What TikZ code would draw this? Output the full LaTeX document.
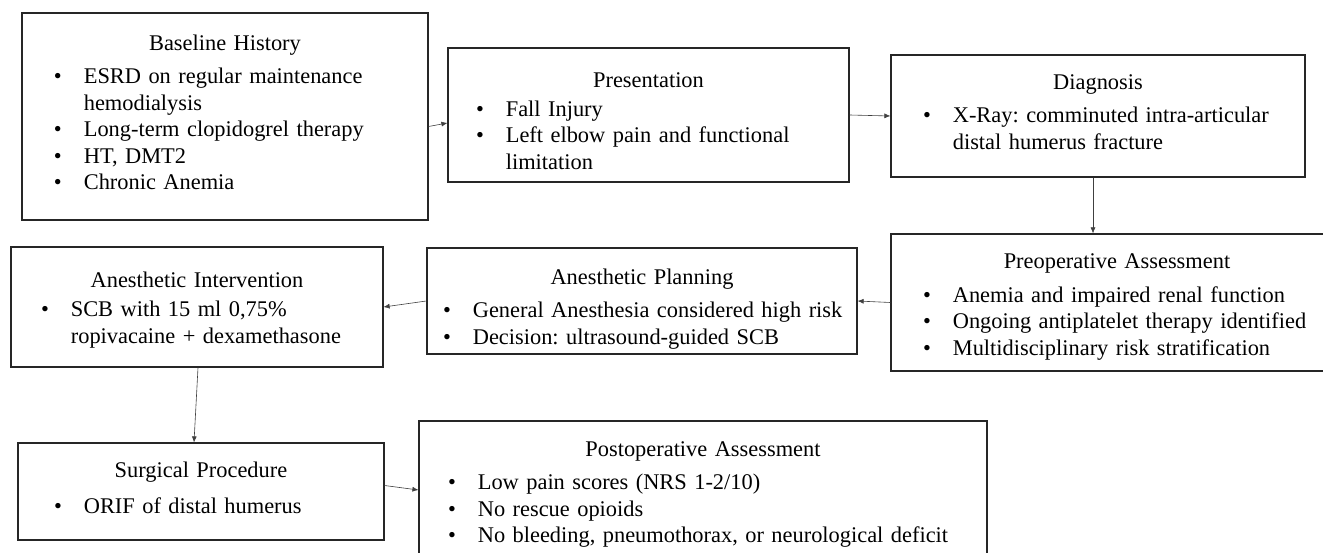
\documentclass[tikz,border=0pt]{standalone}
\usepackage{fontspec}
\setmainfont{Liberation Serif}
\usetikzlibrary{arrows.meta,positioning}
\tikzset{stepbox/.style={draw=black!85,line width=1.2pt,rectangle,inner sep=0,
        font=\fontsize{22.4}{26.5}\selectfont},
    flow/.style={-{Latex[length=6pt,width=5pt]},line width=0.6pt,draw=black!75}
}
\frenchspacing
\newcommand{\boxhead}[2][0pt]{{\centering\rule{0pt}{#1}#2\par}\vspace{9pt}}
\newcommand{\bulletlist}[2][32pt]
{%
% args: [left space before bullet], rows of bullet & text
    \noindent\begin{tabular}{@{\hspace{#1}}l@{\hspace{22pt}}l@{}}#2\end{tabular}%
}

\begin{document}
\begin{tikzpicture}[x=1pt,y=-1pt]

\useasboundingbox (0,0) rectangle (1323,553);

% first row
\node (base) at (225,116.5) [stepbox,text width=406pt,minimum height=207pt]
    {\boxhead{Baseline History}\bulletlist{\textbullet & ESRD on regular maintenance\\
    & hemodialysis\\ \textbullet & Long-term clopidogrel therapy\\
    \textbullet & HT, DMT2\\ \textbullet & Chronic Anemia}};
\node (pres) at (648.5,115) [stepbox,text width=401pt,minimum height=134pt]
    {\boxhead[35pt]{Presentation}\bulletlist[28pt]{\textbullet & Fall Injury\\
    \textbullet & Left elbow pain and functional\\ & limitation}};
\node (diag) at (1098,116) [stepbox,text width=414pt,minimum height=122pt]
    {\boxhead{Diagnosis}\bulletlist{\textbullet & X-Ray: comminuted intra-articular\\
    & distal humerus fracture}};

% second row
\node (preop) at (1117,302.5) [stepbox,text width=452pt,minimum height=137pt]
    {\boxhead[27pt]{Preoperative Assessment}\bulletlist{\textbullet & Anemia and impaired renal function\\
    \textbullet & Ongoing antiplatelet therapy identified\\
    \textbullet & Multidisciplinary risk stratification}};
\node (plan) at (642,301) [stepbox,text width=430pt,minimum height=106pt]
    {\boxhead[35pt]{Anesthetic Planning}\bulletlist[16pt]{\textbullet & General Anesthesia considered high risk\\
    \textbullet & Decision: ultrasound-guided SCB}};
\node (interv) at (197,307) [stepbox,text width=372pt,minimum height=120pt]
    {\boxhead[25pt]{Anesthetic Intervention}\bulletlist[30pt]{\textbullet & SCB with 15 ml 0,75\%\\
    & ropivacaine + dexamethasone}};

% third row
\node (surg) at (201,491.5) [stepbox,text width=366pt,minimum height=97pt]
    {\boxhead{Surgical Procedure}\bulletlist[36pt]{\textbullet & ORIF of distal humerus}};
\node (postop) at (703,491) [stepbox,text width=568pt,minimum height=140pt]
    {\boxhead[25pt]{Postoperative Assessment}\bulletlist[29pt]{\textbullet & Low pain scores (NRS 1-2/10)\\
    \textbullet & No rescue opioids\\
    \textbullet & No bleeding, pneumothorax, or neurological deficit}};

% arrows
\draw [flow] ([yshift=-10pt]base.east) -- ([yshift=-8pt]pres.west);
\draw [flow] (pres.east) -- (diag.west);
\draw [flow] ([xshift=-5pt]diag.south) -- ([xshift=-5pt]diag.south |- preop.north);
\draw [flow] (preop.west) -- (plan.east);
\draw [flow] (plan.west) -- (interv.east);
\draw [flow] ([xshift=1pt]interv.south) -- ([xshift=-7pt]surg.north);
\draw [flow] ([yshift=6pt]surg.east) -- ([yshift=1pt]postop.west);

\end{tikzpicture}
\end{document}
